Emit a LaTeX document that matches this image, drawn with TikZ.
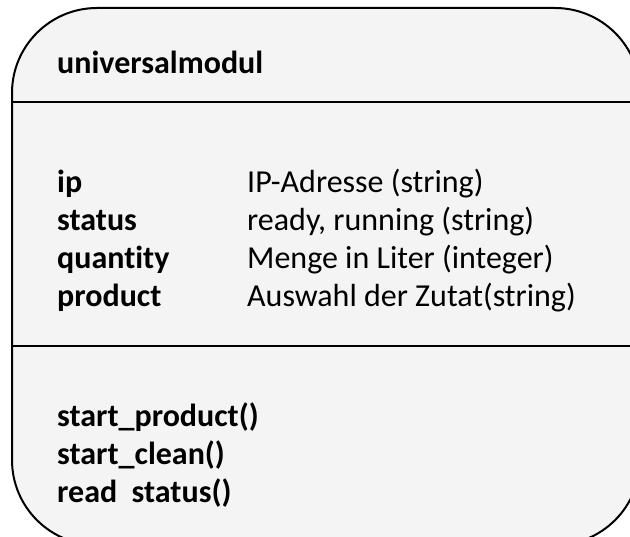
\documentclass[tikz,border=0pt]{standalone}
\usepackage{fontspec}
\setmainfont{Carlito}[RawFeature=-liga]
\begin{document}
\begin{tikzpicture}[x=1pt,y=-1pt,
  txt/.style={anchor=base west,inner sep=0pt,font=\fontsize{32}{38}\selectfont},
  btxt/.style={txt,font=\fontsize{32}{38}\selectfont\bfseries},
  frame/.style={line width=2pt}]
\useasboundingbox (0,0) rectangle (630,537);
\clip (0,0) rectangle (630,537);
\draw[frame,fill=gray!9,rounded corners=85pt] (12,8) rectangle (640,545);
\coordinate (l1a) at (12,102); \coordinate (l1b) at (640,102);
\coordinate (l2a) at (12,346); \coordinate (l2b) at (640,346);
\draw[frame] (l1a) -- (l1b);
\draw[frame] (l2a) -- (l2b);
\node[btxt] (title) at (57,74) {universalmodul};
\node[btxt] (ip) at (57,193) {ip};
\node[btxt] (status) at (57,231) {status};
\node[btxt] (quantity) at (57,269) {quantity};
\node[btxt] (product) at (57,307) {product};
\node[txt] (dip) at (247,193) {IP-Adresse (string)};
\node[txt] (dstatus) at (247,231) {ready, running (string)};
\node[txt] (dquantity) at (247,269) {Menge in Liter (integer)};
\node[txt] (dproduct) at (247,307) {Auswahl der Zutat(string)};
\node[btxt] (m1) at (57,427) {start\_product()};
\node[btxt] (m2) at (57,465) {start\_clean()};
\node[btxt] (m3) at (57,503) {read\ \ status()};
\end{tikzpicture}
\end{document}
